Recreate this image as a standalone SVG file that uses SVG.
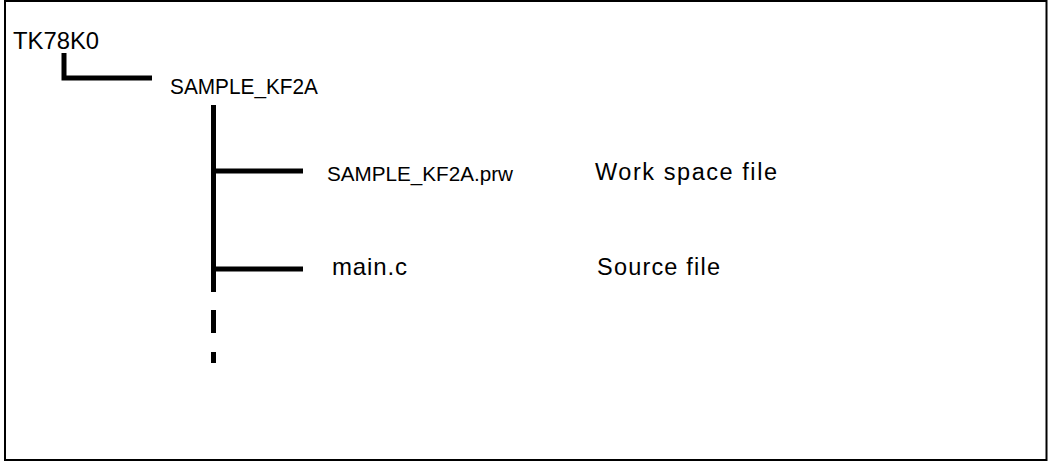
<svg xmlns="http://www.w3.org/2000/svg" width="1048" height="461" viewBox="0 0 1048 461">
  <style>
    .t { font-family: "Liberation Sans", Arial, sans-serif; fill: #000; }
    .c { fill: none; stroke: #000; stroke-width: 5; stroke-linecap: butt; stroke-linejoin: miter; }
  </style>
  <rect x="5" y="1" width="1041.5" height="459" fill="#fff" stroke="#000" stroke-width="2"/>
  <g id="connectors">
    <path class="c" d="M64,53 V78 H152"/>
    <path class="c" d="M213.5,105 V292"/>
    <path class="c" d="M213.5,310 V333"/>
    <path class="c" d="M213.5,352 V363"/>
    <path class="c" d="M213.5,171 H303"/>
    <path class="c" d="M213.5,269 H303"/>
  </g>
  <g id="node-tk78k0">
    <text class="t" x="13" y="49" font-size="24" textLength="86" lengthAdjust="spacingAndGlyphs">TK78K0</text>
  </g>
  <g id="node-sample">
    <text class="t" x="170" y="94" font-size="22" textLength="148" lengthAdjust="spacingAndGlyphs">SAMPLE_KF2A</text>
  </g>
  <g id="node-prw">
    <text class="t" x="327" y="181" font-size="19.5" textLength="186" lengthAdjust="spacingAndGlyphs">SAMPLE_KF2A.prw</text>
  </g>
  <g id="label-prw">
    <text class="t" x="595" y="180" font-size="23.5" textLength="182">Work space file</text>
  </g>
  <g id="node-main">
    <text class="t" x="332" y="275" font-size="24" textLength="75">main.c</text>
  </g>
  <g id="label-main">
    <text class="t" x="597" y="275" font-size="23.5" textLength="123">Source file</text>
  </g>
</svg>
